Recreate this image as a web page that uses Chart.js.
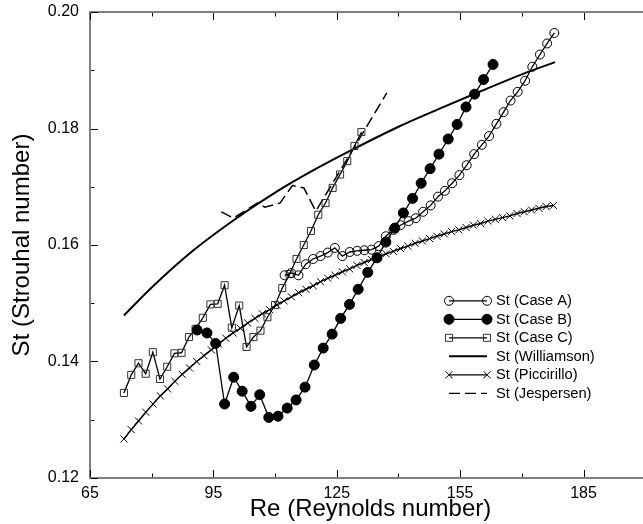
<!DOCTYPE html>
<html><head><meta charset="utf-8">
<script src="https://cdn.jsdelivr.net/npm/chart.js@4.4.1/dist/chart.umd.min.js"></script>
<style>
html,body{margin:0;padding:0;background:#fff;overflow:hidden}
#clip{width:643px;height:524px;overflow:hidden;position:relative}
#wrap{width:657px;height:524px;position:absolute;left:0;top:0}
</style></head><body>
<div id="clip"><div id="wrap"><canvas id="c"></canvas></div></div>
<script>
// ---- data ----
const reCaseA=[112.32,113.91,115.69,117.45,119.25,121.05,122.81,124.54,126.35,128.15,129.96,131.71,133.44,135.18,136.93,138.79,140.47,142.47,144.2,146.0,147.83,149.61,151.3,153.05,154.81,156.59,158.42,160.27,162.03,163.81,165.56,167.25,168.98,170.79,172.55,174.4,176.15,177.9];
const stCaseA=[0.1548,0.1552,0.1548,0.1567,0.1576,0.1581,0.1587,0.1595,0.1581,0.1588,0.1590,0.1591,0.1592,0.1598,0.1615,0.1626,0.1634,0.1641,0.1646,0.1657,0.1668,0.1683,0.1693,0.1706,0.1720,0.1737,0.1756,0.1772,0.1787,0.1808,0.1828,0.1848,0.1863,0.1882,0.1906,0.1927,0.1946,0.1964];

const reCaseB=[91.05,93.44,95.55,97.72,99.93,102.0,104.14,106.26,108.47,110.71,112.95,115.11,117.28,119.54,121.7,123.87,125.94,128.1,130.2,132.53,134.77,136.93,139.1,141.19,143.43,145.52,147.69,149.85,152.09,154.26,156.42,158.51,160.68,162.99];
const stCaseB=[0.1454,0.1449,0.1431,0.1327,0.1373,0.1349,0.1323,0.1343,0.1304,0.1306,0.1320,0.1334,0.1356,0.1394,0.1423,0.1447,0.1474,0.1498,0.1524,0.1553,0.1578,0.1605,0.1629,0.1655,0.1680,0.1706,0.1731,0.1756,0.1782,0.1807,0.1837,0.1859,0.1884,0.1910];

const reCaseC=[73.25,75.03,76.79,78.55,80.28,82.01,83.77,85.52,87.25,89.06,90.69,92.43,94.28,96.04,97.72,99.48,101.28,103.06,104.74,106.45,108.14,109.99,111.75,113.53,115.21,116.97,118.72,120.5,122.26,123.99,125.8,127.55,129.31,130.99];
const stCaseC=[0.1346,0.1377,0.1397,0.1379,0.1416,0.1370,0.1391,0.1414,0.1415,0.1442,0.1456,0.1475,0.1498,0.1499,0.1531,0.1458,0.1496,0.1425,0.1442,0.1453,0.1476,0.1497,0.1526,0.1550,0.1576,0.1600,0.1624,0.1652,0.1672,0.1698,0.1721,0.1744,0.1770,0.1794];

const reWilliamson=[73.25,80,90,100,110,120,130,140,150,160,170,178.07];
const stWilliamson=[0.1479,0.1527,0.1590,0.1643,0.1690,0.1731,0.1768,0.1803,0.1834,0.1864,0.1893,0.1914];

const rePiccirillo=[73.25,75.02,76.79,78.56,80.33,82.10,83.87,85.64,87.41,89.18,90.95,92.72,94.49,96.26,98.03,99.80,101.57,103.34,105.11,106.88,108.65,110.42,112.19,113.96,115.73,117.50,119.27,121.04,122.81,124.58,126.35,128.12,129.89,131.66,133.43,135.20,136.97,138.74,140.51,142.28,144.05,145.82,147.59,149.36,151.13,152.90,154.67,156.44,158.21,159.98,161.75,163.52,165.29,167.06,168.83,170.60,172.37,174.14,175.91,177.68];
const stPiccirillo=[0.1267,0.1283,0.1298,0.1313,0.1327,0.1341,0.1353,0.1366,0.1378,0.1389,0.1400,0.1410,0.1420,0.1430,0.1440,0.1449,0.1457,0.1466,0.1474,0.1482,0.1489,0.1497,0.1504,0.1511,0.1518,0.1524,0.1530,0.1537,0.1543,0.1548,0.1554,0.1559,0.1565,0.1570,0.1575,0.1580,0.1585,0.1589,0.1594,0.1598,0.1603,0.1607,0.1611,0.1615,0.1619,0.1623,0.1626,0.1630,0.1634,0.1637,0.1641,0.1644,0.1647,0.1650,0.1654,0.1657,0.1660,0.1663,0.1666,0.1668];

const reJespersen=[96.93,99.88,105.66,107.5,111.2,114.2,117.0,119.9,137.17];
const stJespersen=[0.1657,0.1646,0.1672,0.1665,0.1672,0.1702,0.1698,0.1658,0.1861];

const seriesNames=['St (Case A)','St (Case B)','St (Case C)','St (Williamson)','St (Piccirillo)','St (Jespersen)'];
const xMajorTicks=[65,95,125,155,185];
const xMinorTicks=[80,110,140,170,200];
const yMajorTicks=[0.12,0.14,0.16,0.18,0.20];
const yMinorTicks=[0.13,0.15,0.17,0.19];
const xRange=[65,201.4];
const yRange=[0.12,0.20];

// ---- build ----
const pts=(re,st)=>re.map((x,i)=>({x:x,y:st[i]}));
const FONT='"Liberation Sans", Arial, Helvetica, sans-serif';
const isIn=(arr,v)=>arr.some(t=>Math.abs(t-v)<1e-9);

const datasets=[
 {label:seriesNames[0],data:pts(reCaseA,stCaseA),showLine:true,borderColor:'#000',borderWidth:1.3,
  pointStyle:'circle',pointRadius:4.5,pointBorderWidth:1,pointBorderColor:'#000',pointBackgroundColor:'rgba(0,0,0,0)',legendFill:'rgba(0,0,0,0)'},
 {label:seriesNames[1],data:pts(reCaseB,stCaseB),showLine:true,borderColor:'#000',borderWidth:1.3,
  pointStyle:'circle',pointRadius:5,pointBorderWidth:1,pointBorderColor:'#000',pointBackgroundColor:'#000',legendFill:'#000'},
 {label:seriesNames[2],data:pts(reCaseC,stCaseC),showLine:true,borderColor:'#000',borderWidth:1.3,
  pointStyle:'rect',pointRadius:5,pointBorderWidth:1,pointBorderColor:'#333',pointBackgroundColor:'rgba(0,0,0,0)',legendFill:'rgba(0,0,0,0)'},
 {label:seriesNames[3],data:pts(reWilliamson,stWilliamson),showLine:true,borderColor:'#000',borderWidth:2,
  cubicInterpolationMode:'monotone',pointRadius:0,pointStyle:false},
 {label:seriesNames[4],data:pts(rePiccirillo,stPiccirillo),showLine:true,borderColor:'#000',borderWidth:1.5,
  pointStyle:'crossRot',pointRadius:5,pointBorderWidth:1,pointBorderColor:'#000',pointBackgroundColor:'#000',legendFill:'#000'},
 {label:seriesNames[5],data:pts(reJespersen,stJespersen),showLine:true,borderColor:'#000',borderWidth:1.5,
  borderDash:[11,5],pointRadius:0,pointStyle:false}
];

const tickPlugin={
 id:'inwardTicks',
 afterDraw(chart){
  const {ctx,chartArea:a,scales:{x,y}}=chart;
  ctx.save();
  ctx.strokeStyle='#7f7f7f';ctx.lineWidth=2;
  ctx.beginPath();ctx.moveTo(a.left-1,a.top);ctx.lineTo(a.right,a.top);ctx.stroke();
  ctx.strokeStyle='#000';ctx.lineWidth=1;
  const xt=[...xMajorTicks.map(v=>[v,7]),...xMinorTicks.map(v=>[v,3.5])];
  xt.forEach(([v,len])=>{
    const px=Math.round(x.getPixelForValue(v))+0.5;
    ctx.beginPath();
    ctx.moveTo(px,a.bottom-1);ctx.lineTo(px,a.bottom-1-len);
    ctx.moveTo(px,a.top+1);ctx.lineTo(px,a.top+1+len);
    ctx.stroke();
  });
  const yt=[...yMajorTicks.map(v=>[v,7]),...yMinorTicks.map(v=>[v,3.5])];
  yt.forEach(([v,len])=>{
    const py=Math.round(y.getPixelForValue(v))+0.5;
    ctx.beginPath();ctx.moveTo(a.left+1,py);ctx.lineTo(a.left+1+len,py);ctx.stroke();
  });
  ctx.restore();
 }
};

function marker(ctx,ds,cx,cy){
  if(!ds.pointStyle)return;
  ctx.save();
  ctx.fillStyle=ds.legendFill||'#000';
  ctx.strokeStyle=ds.pointBorderColor||'#000';
  ctx.lineWidth=ds.pointBorderWidth||1;
  ctx.setLineDash([]);
  if(Chart.helpers&&Chart.helpers.drawPoint){
    Chart.helpers.drawPoint(ctx,{pointStyle:ds.pointStyle,radius:ds.pointRadius,borderWidth:ds.pointBorderWidth,rotation:0},cx,cy);
  }
  ctx.restore();
}

const legendPlugin={
 id:'sideLegend',
 afterDraw(chart){
  const ctx=chart.ctx;
  const x0=449,x1=487,tx=496,y0=300.8,dy=18.5;
  ctx.save();
  chart.data.datasets.forEach((ds,i)=>{
    const yy=y0+i*dy;
    ctx.strokeStyle='#000';
    ctx.lineWidth=ds.borderWidth>1.6?2:1.3;
    ctx.setLineDash(ds.borderDash||[]);
    ctx.beginPath();ctx.moveTo(x0,yy);ctx.lineTo(x1,yy);ctx.stroke();
    ctx.setLineDash([]);
    marker(ctx,ds,x0,yy);marker(ctx,ds,x1,yy);
    ctx.fillStyle='#000';
    ctx.font='14.7px '+FONT;
    ctx.textBaseline='middle';ctx.textAlign='left';
    ctx.fillText(ds.label,tx,yy+0.5);
  });
  ctx.restore();
 }
};

new Chart(document.getElementById('c'),{
 type:'scatter',
 data:{datasets:datasets},
 plugins:[tickPlugin,legendPlugin],
 options:{
  responsive:true,maintainAspectRatio:false,animation:false,
  events:[],
  layout:{padding:{top:12,left:0,right:0,bottom:0}},
  plugins:{legend:{display:false},tooltip:{enabled:false}},
  scales:{
   x:{type:'linear',position:'bottom',min:xRange[0],max:xRange[1],
     afterBuildTicks:s=>{s.ticks=[...xMajorTicks,...xMinorTicks].sort((a,b)=>a-b).map(v=>({value:v}));},
     afterFit:s=>{s.height=46;s.paddingLeft=0;s.paddingRight=0;},
     ticks:{autoSkip:false,maxRotation:0,padding:6,color:'#000',font:{family:FONT,size:16},
       callback:v=>isIn(xMajorTicks,v)?String(v):''},
     grid:{display:true,drawOnChartArea:false,drawTicks:false},
     border:{display:true,color:'#7f7f7f',width:2},
     title:{display:true,text:'Re (Reynolds number)',color:'#000',font:{family:FONT,size:24},padding:{top:0,bottom:0}}
   },
   y:{type:'linear',position:'left',min:yRange[0],max:yRange[1],
     afterBuildTicks:s=>{s.ticks=[...yMajorTicks,...yMinorTicks].sort((a,b)=>a-b).map(v=>({value:v}));},
     afterFit:s=>{s.width=90;s.paddingTop=0;s.paddingBottom=0;},
     ticks:{autoSkip:false,padding:11,color:'#000',font:{family:FONT,size:16},
       callback:v=>isIn(yMajorTicks,v)?v.toFixed(2):''},
     grid:{display:true,drawOnChartArea:false,drawTicks:false},
     border:{display:true,color:'#7f7f7f',width:2},
     title:{display:true,text:'St (Strouhal number)',color:'#000',font:{family:FONT,size:24},padding:{top:8,bottom:0}}
   }
  }
 }
});
</script>
</body></html>
